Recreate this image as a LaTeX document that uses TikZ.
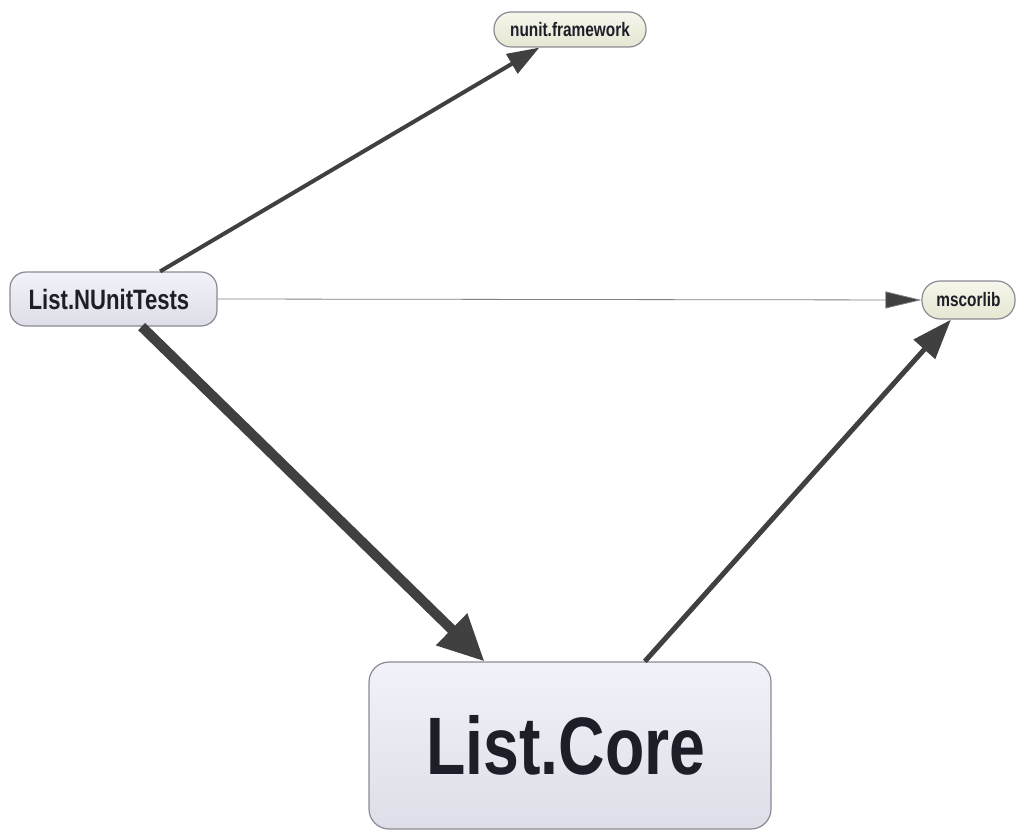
\documentclass[tikz,border=0pt]{standalone}
\usepackage{fontspec}
\setmainfont{Liberation Sans}[FakeStretch=0.79]
\usetikzlibrary{arrows.meta,shadings}
\definecolor{edgec}{HTML}{404040}
\definecolor{bordc}{HTML}{8A8A92}
\definecolor{lavtop}{HTML}{F2F2FA}
\definecolor{lavbot}{HTML}{DEDEE8}
\definecolor{beitop}{HTML}{F6F6EC}
\definecolor{beibot}{HTML}{E6E6D2}
\definecolor{txtc}{HTML}{1E1E28}
\tikzset{
  asm/.style={draw=bordc, line width=1.2pt, top color=lavtop, bottom color=lavbot,
    inner sep=0pt, text=txtc, font=\bfseries},
  ext/.style={draw=bordc, line width=1.2pt, top color=beitop, bottom color=beibot,
    inner sep=0pt, text=txtc, font=\bfseries\fontsize{19.5}{22}\selectfont},
  dep/.style={draw=edgec, color=edgec}
}
\begin{document}
\begin{tikzpicture}[x=1pt,y=-1pt]
\useasboundingbox (0,0) rectangle (1024,837);
\node[ext, minimum width=152pt, minimum height=35pt, rounded corners=17pt] (nf) at (570,29.5) {nunit.framework};
\node[ext, minimum width=93pt, minimum height=38pt, rounded corners=18pt] (ms) at (968.5,300) {mscorlib};
\node[asm, minimum width=207pt, minimum height=54pt, rounded corners=16pt,
  font=\bfseries\fontsize{28}{30}\selectfont] (nt) at (113.5,299) {List.NUnitTests\kern9pt};
\node[asm, minimum width=402pt, minimum height=167pt, rounded corners=20pt,
  font=\bfseries\fontsize{81.5}{90}\selectfont] (lc) at (570,745.5) {List.Core\kern8pt};
\draw[dep, line width=4pt, -{Triangle[length=32pt,width=22pt]}] (nt) -- (nf);
\draw[dep, line width=0.8pt, draw=gray, -{Triangle[length=36pt,width=17pt,fill=edgec]}] (nt.east) -- (ms.west);
\draw[dep, line width=10pt, -{Triangle[length=46pt,width=42pt]}] (nt) -- (lc);
\draw[dep, line width=5pt, -{Triangle[length=40pt,width=28pt]}] (lc) -- (ms);
\end{tikzpicture}
\end{document}
